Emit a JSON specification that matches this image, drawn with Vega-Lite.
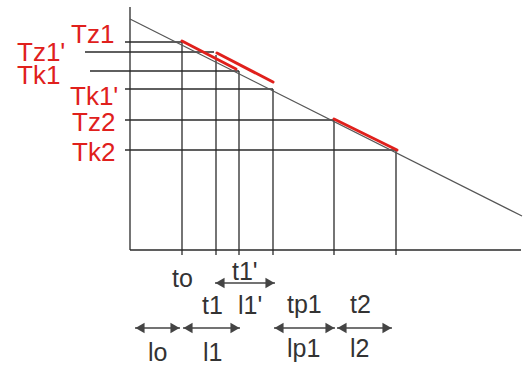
{
  "$schema": "https://vega.github.io/schema/vega-lite/v6.json",
  "width": 526,
  "height": 365,
  "padding": 0,
  "autosize": {"type": "none"},
  "background": "white",
  "config": {"view": {"stroke": null}},
  "datasets": {
    "lines": [
      {"x": 130, "y": 7, "x2": 130, "y2": 250},
      {"x": 130, "y": 250, "x2": 521, "y2": 250},
      {"x": 125, "y": 42, "x2": 182, "y2": 42},
      {"x": 85, "y": 52, "x2": 214, "y2": 52},
      {"x": 90, "y": 71, "x2": 239, "y2": 71},
      {"x": 125, "y": 89, "x2": 273, "y2": 89},
      {"x": 125, "y": 120, "x2": 334, "y2": 120},
      {"x": 125, "y": 150, "x2": 396, "y2": 150},
      {"x": 182, "y": 42, "x2": 182, "y2": 255},
      {"x": 216, "y": 55, "x2": 216, "y2": 255},
      {"x": 239, "y": 71, "x2": 239, "y2": 255},
      {"x": 273, "y": 89, "x2": 273, "y2": 255},
      {"x": 334, "y": 120, "x2": 334, "y2": 255},
      {"x": 396, "y": 150, "x2": 396, "y2": 255}
    ],
    "diag": [
      {"x": 130, "y": 19, "x2": 522, "y2": 216}
    ],
    "red": [
      {"x": 182, "y": 41, "x2": 236, "y2": 69},
      {"x": 217, "y": 53, "x2": 273, "y2": 82},
      {"x": 334, "y": 119, "x2": 397, "y2": 150}
    ],
    "arrows": [
      {"x": 215, "x2": 275, "y": 283},
      {"x": 135, "x2": 180, "y": 328},
      {"x": 183, "x2": 240, "y": 328},
      {"x": 274, "x2": 335, "y": 328},
      {"x": 337, "x2": 392, "y": 328}
    ],
    "heads": [
      {"x": 220, "y": 283, "dir": "triangle-left"},
      {"x": 270, "y": 283, "dir": "triangle-right"},
      {"x": 140, "y": 328, "dir": "triangle-left"},
      {"x": 175, "y": 328, "dir": "triangle-right"},
      {"x": 188, "y": 328, "dir": "triangle-left"},
      {"x": 235, "y": 328, "dir": "triangle-right"},
      {"x": 279, "y": 328, "dir": "triangle-left"},
      {"x": 330, "y": 328, "dir": "triangle-right"},
      {"x": 342, "y": 328, "dir": "triangle-left"},
      {"x": 387, "y": 328, "dir": "triangle-right"}
    ],
    "redText": [
      {"x": 71, "y": 43, "label": "Tz1"},
      {"x": 17, "y": 61, "label": "Tz1'"},
      {"x": 17, "y": 84, "label": "Tk1"},
      {"x": 70, "y": 105, "label": "Tk1'"},
      {"x": 72, "y": 131, "label": "Tz2"},
      {"x": 72, "y": 161, "label": "Tk2"}
    ],
    "blackText": [
      {"x": 172, "y": 287, "label": "to"},
      {"x": 232, "y": 280, "label": "t1'"},
      {"x": 202, "y": 314, "label": "t1"},
      {"x": 238, "y": 314, "label": "l1'"},
      {"x": 287, "y": 313, "label": "tp1"},
      {"x": 350, "y": 313, "label": "t2"},
      {"x": 148, "y": 361, "label": "lo"},
      {"x": 203, "y": 361, "label": "l1"},
      {"x": 287, "y": 357, "label": "lp1"},
      {"x": 350, "y": 357, "label": "l2"}
    ]
  },
  "encoding": {
    "x": {"field": "x", "type": "quantitative", "scale": {"domain": [0, 526]}, "axis": null},
    "y": {"field": "y", "type": "quantitative", "scale": {"domain": [0, 365], "reverse": true}, "axis": null}
  },
  "layer": [
    {
      "data": {"name": "lines"},
      "mark": {"type": "rule", "color": "#2a2a2a", "strokeWidth": 1.3},
      "encoding": {"x2": {"field": "x2"}, "y2": {"field": "y2"}}
    },
    {
      "data": {"name": "diag"},
      "mark": {"type": "rule", "color": "#555555", "strokeWidth": 1.2},
      "encoding": {"x2": {"field": "x2"}, "y2": {"field": "y2"}}
    },
    {
      "data": {"name": "red"},
      "mark": {"type": "rule", "color": "#e0201c", "strokeWidth": 3, "strokeCap": "round"},
      "encoding": {"x2": {"field": "x2"}, "y2": {"field": "y2"}}
    },
    {
      "data": {"name": "arrows"},
      "mark": {"type": "rule", "color": "#444444", "strokeWidth": 1.6},
      "encoding": {"x2": {"field": "x2"}}
    },
    {
      "data": {"name": "heads"},
      "mark": {"type": "point", "filled": true, "color": "#444444", "size": 110, "opacity": 1},
      "encoding": {"shape": {"field": "dir", "type": "nominal", "scale": null}}
    },
    {
      "data": {"name": "redText"},
      "mark": {"type": "text", "font": "Liberation Sans", "fontSize": 26, "color": "#e0201c", "align": "left", "baseline": "alphabetic"},
      "encoding": {"text": {"field": "label"}}
    },
    {
      "data": {"name": "blackText"},
      "mark": {"type": "text", "font": "Liberation Sans", "fontSize": 25, "color": "#333333", "align": "left", "baseline": "alphabetic"},
      "encoding": {"text": {"field": "label"}}
    }
  ]
}
